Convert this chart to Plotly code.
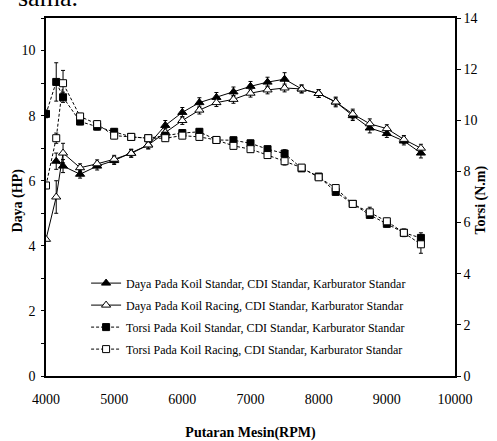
import plotly.graph_objects as go

# ---- data ----
rpm = [4000, 4150, 4250, 4500, 4750, 5000, 5250, 5500, 5750, 6000, 6250, 6500,
       6750, 7000, 7250, 7500, 7750, 8000, 8250, 8500, 8750, 9000, 9250, 9500]
rpm_daya_std = rpm[1:]

daya_std = [6.6, 6.45, 6.2, 6.45, 6.62, 6.85, 7.1, 7.7, 8.1, 8.4, 8.56, 8.73,
            8.9, 9.03, 9.12, 8.82, 8.68, 8.42, 8.0, 7.62, 7.45, 7.22, 6.85]
daya_std_err = [0.25, 0.2, 0.12, 0.12, 0.12, 0.12, 0.12, 0.15, 0.15, 0.15, 0.15, 0.15,
                0.15, 0.15, 0.2, 0.12, 0.12, 0.15, 0.15, 0.15, 0.12, 0.12, 0.15]

daya_rac = [4.2, 5.5, 6.85, 6.4, 6.52, 6.66, 6.84, 7.1, 7.48, 7.85, 8.17, 8.4,
            8.5, 8.69, 8.79, 8.85, 8.82, 8.68, 8.42, 8.05, 7.75, 7.6, 7.27, 7.0]
daya_rac_err = [0.0, 0.5, 0.3, 0.12, 0.12, 0.12, 0.12, 0.12, 0.12, 0.12, 0.12, 0.12,
                0.12, 0.12, 0.12, 0.12, 0.12, 0.12, 0.12, 0.15, 0.15, 0.12, 0.12, 0.12]

torsi_std = [10.25, 11.5, 10.9, 9.95, 9.75, 9.55, 9.35, 9.3, 9.4, 9.5, 9.55, 9.23,
             9.22, 9.1, 8.87, 8.7, 8.12, 7.8, 7.2, 6.73, 6.3, 5.95, 5.6, 5.4]
torsi_std_err = [0.15, 0.75, 0.2, 0.12, 0.12, 0.12, 0.12, 0.12, 0.12, 0.12, 0.12, 0.12,
                 0.12, 0.12, 0.12, 0.15, 0.12, 0.12, 0.12, 0.12, 0.12, 0.12, 0.15, 0.2]

torsi_rac = [7.45, 9.3, 11.45, 10.15, 9.85, 9.4, 9.35, 9.3, 9.3, 9.4, 9.35, 9.23,
             9.0, 8.87, 8.64, 8.4, 8.15, 7.77, 7.35, 6.73, 6.4, 6.05, 5.6, 5.15]
torsi_rac_err = [0.12, 0.2, 0.5, 0.12, 0.12, 0.12, 0.12, 0.12, 0.12, 0.12, 0.12, 0.12,
                 0.12, 0.12, 0.12, 0.15, 0.12, 0.12, 0.12, 0.12, 0.2, 0.12, 0.12, 0.35]

names = [
    "Daya Pada Koil Standar, CDI Standar, Karburator Standar",
    "Daya Pada Koil Racing, CDI Standar, Karburator Standar",
    "Torsi Pada Koil Standar, CDI Standar, Karburator Standar",
    "Torsi Pada Koil Racing, CDI Standar, Karburator Standar",
]

x_ticks = [4000, 5000, 6000, 7000, 8000, 9000, 10000]
x_labels = ["4000", "5000", "6000", "7000", "8000", "9000", "10000"]
y_ticks = [0, 2, 4, 6, 8, 10]
y2_ticks = [0, 2, 4, 6, 8, 10, 12, 14]

FONT = "Liberation Serif, serif"

def err(arr):
    return dict(type="data", array=arr, visible=True, color="black", thickness=1, width=2)

fig = go.Figure()
fig.add_trace(go.Scatter(
    x=rpm_daya_std, y=daya_std, name=names[0], mode="lines+markers",
    line=dict(color="black", width=1),
    marker=dict(symbol="triangle-up", size=8, color="black", line=dict(color="black", width=1)),
    error_y=err(daya_std_err), legendgroup="a"))
fig.add_trace(go.Scatter(
    x=rpm, y=daya_rac, name=names[1], mode="lines+markers",
    line=dict(color="black", width=1),
    marker=dict(symbol="triangle-up", size=8, color="white", line=dict(color="black", width=1)),
    error_y=err(daya_rac_err), legendgroup="b"))
fig.add_trace(go.Scatter(
    x=rpm, y=torsi_std, name=names[2], mode="lines+markers", yaxis="y2",
    line=dict(color="black", width=1, dash="3px,2px"),
    marker=dict(symbol="square", size=7, color="black", line=dict(color="black", width=1)),
    error_y=err(torsi_std_err), legendgroup="c"))
fig.add_trace(go.Scatter(
    x=rpm, y=torsi_rac, name=names[3], mode="lines+markers", yaxis="y2",
    line=dict(color="black", width=1, dash="3px,2px"),
    marker=dict(symbol="square", size=7, color="white", line=dict(color="black", width=1)),
    error_y=err(torsi_rac_err), legendgroup="d"))

fig.update_layout(
    width=497, height=441,
    margin=dict(l=46, r=42, t=18, b=65, autoexpand=False),
    paper_bgcolor="white", plot_bgcolor="white",
    font=dict(family=FONT, color="black", size=14),
    showlegend=True,
    legend=dict(x=0.098, y=0.30, xanchor="left", yanchor="top",
                bgcolor="rgba(0,0,0,0)", font=dict(size=12),
                itemwidth=30, tracegroupgap=3),
    xaxis=dict(range=[4000, 10000], tickvals=x_ticks, ticktext=x_labels,
               showgrid=False, zeroline=False, automargin=False,
               showline=True, linecolor="black", linewidth=1.5, mirror=True,
               ticks="", ticklabelstandoff=9, tickfont=dict(size=14),
               title=dict(text="Putaran Mesin(RPM)", font=dict(size=14, weight="bold"), standoff=23)),
    yaxis=dict(range=[0, 11], tickvals=y_ticks, showgrid=False, zeroline=False, automargin=False,
               showline=True, linecolor="black", linewidth=1.5,
               ticks="outside", ticklen=3, tickcolor="black",
               minor=dict(dtick=1, ticks="outside", ticklen=3, tickcolor="black"),
               tickfont=dict(size=14), ticklabelstandoff=3),
    yaxis2=dict(range=[0, 14], tickvals=y2_ticks, overlaying="y", side="right", automargin=False,
                showgrid=False, zeroline=False, showline=True, linecolor="black", linewidth=1.5,
                ticks="outside", ticklen=4, tickcolor="black", tickfont=dict(size=14)),
    annotations=[
        dict(text="sama.", xref="paper", yref="paper", x=-0.073, y=1.0,
             xanchor="left", yanchor="bottom", yshift=4, showarrow=False,
             font=dict(family=FONT, size=26, color="black")),
        dict(text="Daya (HP)", xref="paper", yref="paper", x=0, xshift=-28, y=0.49,
             xanchor="center", yanchor="middle", textangle=-90, showarrow=False,
             font=dict(family=FONT, size=14, weight="bold", color="black")),
        dict(text="Torsi (N.m)", xref="paper", yref="paper", x=1, xshift=26, y=0.49,
             xanchor="center", yanchor="middle", textangle=-90, showarrow=False,
             font=dict(family=FONT, size=14, weight="bold", color="black")),
    ],
)

fig.write_html("out.html")
